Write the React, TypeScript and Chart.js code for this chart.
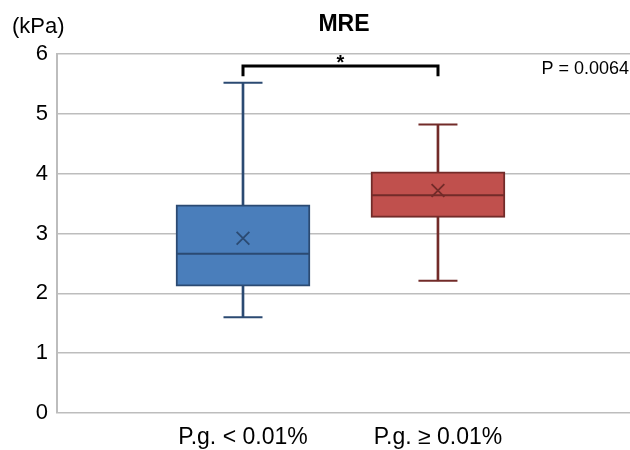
import React, { useEffect, useRef } from 'react';
import { Chart, registerables } from 'chart.js';

Chart.register(...registerables);

// ---- data ----
const CATEGORIES = ['P.g. < 0.01%', 'P.g. ≥ 0.01%'];
const MIN_VALUES = [1.6, 2.21];
const Q1_VALUES = [2.12, 3.27];
const MEDIAN_VALUES = [2.66, 3.64];
const Q3_VALUES = [3.48, 4.03];
const MAX_VALUES = [5.52, 4.82];
const MEAN_VALUES = [2.92, 3.72];
const Y_MIN = 0;
const Y_MAX = 6;
const Y_STEP = 1;
const TITLE = 'MRE';
const UNIT_LABEL = '(kPa)';
const P_TEXT = 'P = 0.0064';
const SIG_MARK = '*';
const BRACKET_TOP = 5.8;
const BRACKET_LEG = 5.63;

// ---- styles ----
const FILLS = ['#4a7ebb', '#c0504d'];
const EDGES = ['#2b4a72', '#722b29'];
const FONT = '"Liberation Sans", Arial, sans-serif';
const X_RANGE_MIN = 0.046;
const X_RANGE_MAX = 2.985;

const annotationPlugin = {
  id: 'annotations',
  afterDraw(chart: any) {
    const { ctx, scales } = chart;
    const xs = scales.x;
    const ys = scales.y;
    ctx.save();
    ctx.fillStyle = '#000';
    ctx.font = `bold 23px ${FONT}`;
    ctx.textAlign = 'center';
    ctx.textBaseline = 'middle';
    ctx.fillText(TITLE, 344, 25);
    ctx.font = `22px ${FONT}`;
    ctx.textAlign = 'left';
    ctx.fillText(UNIT_LABEL, 12, 27);
    ctx.font = `18px ${FONT}`;
    ctx.textAlign = 'right';
    ctx.fillText(P_TEXT, 629, 69);
    const x1 = Math.round(xs.getPixelForValue(1));
    const x2 = Math.round(xs.getPixelForValue(2));
    const yt = ys.getPixelForValue(BRACKET_TOP);
    const yl = ys.getPixelForValue(BRACKET_LEG);
    ctx.strokeStyle = '#000';
    ctx.lineWidth = 3;
    ctx.lineCap = 'butt';
    ctx.lineJoin = 'miter';
    ctx.beginPath();
    ctx.moveTo(x1, yl);
    ctx.lineTo(x1, yt);
    ctx.lineTo(x2, yt);
    ctx.lineTo(x2, yl);
    ctx.stroke();
    ctx.font = `bold 20px ${FONT}`;
    ctx.textAlign = 'center';
    ctx.textBaseline = 'middle';
    ctx.fillText(SIG_MARK, (x1 + x2) / 2, yt - 2);
    ctx.restore();
  },
};

export default function App() {
  const canvasRef = useRef<HTMLCanvasElement | null>(null);

  useEffect(() => {
    document.body.style.margin = '0';
    const canvas = canvasRef.current;
    if (!canvas) return;

    const datasets: any[] = [];
    CATEGORIES.forEach((_, i) => {
      const x = i + 1;
      datasets.push({
        type: 'bar',
        label: 'whisker' + i,
        data: [{ x, y: [MIN_VALUES[i], MAX_VALUES[i]] }],
        backgroundColor: EDGES[i],
        borderWidth: 0,
        barThickness: 2,
        grouped: false,
        order: 5,
      });
      datasets.push({
        type: 'bar',
        label: 'box' + i,
        data: [{ x, y: [Q1_VALUES[i], Q3_VALUES[i]] }],
        backgroundColor: FILLS[i],
        borderColor: EDGES[i],
        borderWidth: 2,
        borderSkipped: false,
        barThickness: 134,
        grouped: false,
        order: 4,
      });
      datasets.push({
        type: 'line',
        label: 'caps' + i,
        data: [
          { x, y: MIN_VALUES[i] },
          { x, y: MAX_VALUES[i] },
        ],
        showLine: false,
        pointStyle: 'line',
        pointRadius: 19.5,
        pointBorderColor: EDGES[i],
        pointBorderWidth: 2,
        order: 2,
      });
      datasets.push({
        type: 'line',
        label: 'median' + i,
        data: [{ x, y: MEDIAN_VALUES[i] }],
        showLine: false,
        pointStyle: 'line',
        pointRadius: 66,
        pointBorderColor: EDGES[i],
        pointBorderWidth: 2,
        order: 1,
      });
      datasets.push({
        type: 'line',
        label: 'mean' + i,
        data: [{ x, y: MEAN_VALUES[i] }],
        showLine: false,
        pointStyle: 'crossRot',
        pointRadius: 9,
        pointBorderColor: EDGES[i],
        pointBorderWidth: 1.8,
        order: 0,
      });
    });

    const chart = new Chart(canvas, {
      type: 'bar',
      data: { datasets },
      options: {
        animation: false,
        responsive: false,
        maintainAspectRatio: false,
        devicePixelRatio: 1,
        layout: { autoPadding: false, padding: { top: 54, right: 0, bottom: 0, left: 0 } },
        plugins: {
          legend: { display: false },
          tooltip: { enabled: false },
          title: { display: false },
        },
        scales: {
          x: {
            type: 'linear',
            min: X_RANGE_MIN,
            max: X_RANGE_MAX,
            offset: false,
            grid: { display: false, drawTicks: false },
            border: { display: false },
            afterBuildTicks: (s: any) => {
              s.ticks = CATEGORIES.map((_, i) => ({ value: i + 1 }));
            },
            afterFit: (s: any) => {
              s.height = 37;
              s.paddingLeft = 0;
              s.paddingRight = 0;
              s.paddingTop = 0;
              s.paddingBottom = 0;
            },
            ticks: {
              autoSkip: false,
              maxRotation: 0,
              minRotation: 0,
              padding: 11,
              color: '#000',
              font: { family: FONT, size: 23 },
              callback: (v: any) => CATEGORIES[Number(v) - 1] ?? '',
            },
          },
          y: {
            type: 'linear',
            min: Y_MIN,
            max: Y_MAX,
            afterFit: (s: any) => {
              s.width = 57;
              s.paddingLeft = 0;
              s.paddingRight = 0;
              s.paddingTop = 0;
              s.paddingBottom = 0;
            },
            grid: { color: '#bdbdbd', lineWidth: 1.5, drawTicks: false },
            border: { display: true, color: '#bdbdbd', width: 2 },
            ticks: {
              stepSize: Y_STEP,
              padding: 9,
              color: '#000',
              font: { family: FONT, size: 22 },
            },
          },
        },
      },
      plugins: [annotationPlugin],
    } as any);

    return () => chart.destroy();
  }, []);

  return (
    <div style={{ width: 630, height: 450 }}>
      <canvas ref={canvasRef} width={630} height={450} />
    </div>
  );
}
